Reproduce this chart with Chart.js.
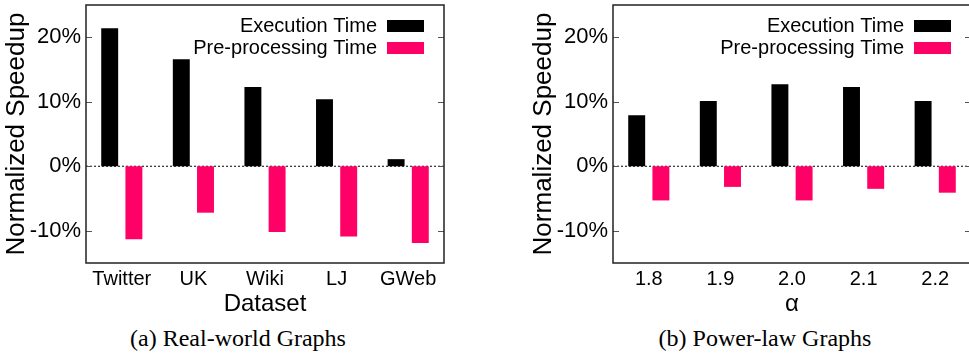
<!DOCTYPE html>
<html>
<head>
<meta charset="utf-8">
<script src="https://cdn.jsdelivr.net/npm/chart.js@4.4.1/dist/chart.umd.min.js"></script>
<style>
  body { margin: 0; background: #fff; }
  #page { position: relative; width: 969px; height: 356px; overflow: hidden; }
  canvas { position: absolute; top: 0; }
  .cap { position: absolute; top: 326px; font-family: "Liberation Serif"; font-size: 24px; line-height: 24px; white-space: nowrap; transform: translateX(-50%); color: #000; }
</style>
</head>
<body>
<div id="page">
  <canvas id="realChart" width="485" height="319" style="left:0"></canvas>
  <canvas id="alphaChart" width="472" height="319" style="left:500px"></canvas>
  <div class="cap" style="left:238px">(a) Real-world Graphs</div>
  <div class="cap" style="left:765px">(b) Power-law Graphs</div>
</div>
<script>

/* =====================
  data
===================== */

var realNames = ['Twitter', 'UK', 'Wiki', 'LJ', 'GWeb'];
var realExec = [21.4, 16.6, 12.3, 10.4, 1.1];
var realPre = [-11.3, -7.2, -10.2, -10.9, -11.9];

var alphaNames = ['1.8', '1.9', '2.0', '2.1', '2.2'];
var alphaExec = [7.9, 10.1, 12.7, 12.3, 10.1];
var alphaPre = [-5.3, -3.2, -5.3, -3.5, -4.1];

var yTicks = [-10, 0, 10, 20];
var seriesNames = ['Execution Time', 'Pre-processing Time'];
var seriesColors = ['#000000', '#ff0066'];

Chart.defaults.font.family = 'Liberation Sans';
Chart.defaults.color = '#000';

/* =====================
  frame, zero line, inner ticks, legend
===================== */

var framePlugin = {
	id: 'frame',
	beforeDatasetsDraw: function(chart) {
		var a = chart.chartArea;
		var ctx = chart.ctx;
		var y0 = chart.scales.y.getPixelForValue(0);
		ctx.save();
		ctx.strokeStyle = '#000';
		ctx.lineWidth = 1;
		ctx.setLineDash([2, 2]);
		ctx.beginPath();
		ctx.moveTo(a.left, y0);
		ctx.lineTo(a.right, y0);
		ctx.stroke();
		ctx.restore();
	},
	afterDatasetsDraw: function(chart) {
		var a = chart.chartArea;
		var ctx = chart.ctx;
		var ys = chart.scales.y;
		ctx.save();

		// small ticks pointing inside, both sides
		ctx.strokeStyle = '#555';
		ctx.lineWidth = 1;
		yTicks.forEach(function(v) {
			var y = Math.round(ys.getPixelForValue(v)) + 0.5;
			ctx.beginPath();
			ctx.moveTo(a.left, y);
			ctx.lineTo(a.left + 6, y);
			ctx.moveTo(a.right - 6, y);
			ctx.lineTo(a.right, y);
			ctx.stroke();
		});

		ctx.strokeStyle = '#222';
		ctx.lineWidth = 1.5;
		ctx.strokeRect(a.left, a.top, a.right - a.left, a.bottom - a.top);

		// legend inside the top right corner
		ctx.font = '20px "Liberation Sans"';
		ctx.textAlign = 'right';
		ctx.textBaseline = 'middle';
		chart.data.datasets.forEach(function(ds, i) {
			var y = a.top + 21 + i * 22;
			ctx.fillStyle = '#000';
			ctx.fillText(ds.label, a.right - 67, y);
			ctx.fillStyle = ds.backgroundColor;
			ctx.fillRect(a.right - 57, y - 6, 37, 12);
		});
		ctx.restore();
	}
};

var makeChart = function(id, labels, exec, pre, xTitle, padLeft, padRight) {
	var ctx = document.getElementById(id).getContext('2d');
	return new Chart(ctx, {
		type: 'bar',
		data: {
			labels: labels,
			datasets: [{
				label: seriesNames[0],
				data: exec,
				backgroundColor: seriesColors[0]
			}, {
				label: seriesNames[1],
				data: pre,
				backgroundColor: seriesColors[1]
			}]
		},
		options: {
			responsive: false,
			animation: false,
			datasets: {
				bar: { categoryPercentage: 0.676, barPercentage: 0.7, borderWidth: 0 }
			},
			layout: { padding: { top: 5, left: padLeft, right: padRight, bottom: 0 } },
			plugins: {
				legend: { display: false },
				tooltip: { enabled: false }
			},
			scales: {
				x: {
					grid: { display: false, drawTicks: false },
					border: { display: false },
					ticks: { font: { size: 20 }, padding: 4, color: '#000' },
					title: { display: true, text: xTitle, font: { size: 24 }, padding: 0, color: '#000' },
					afterFit: function(scale) {
						scale.height = 56;
						scale.paddingLeft = 0;
						scale.paddingRight = 0;
					}
				},
				y: {
					min: -15,
					max: 25,
					grid: { display: false, drawTicks: false },
					border: { display: false },
					afterBuildTicks: function(scale) {
						scale.ticks = yTicks.map(function(v) { return { value: v }; });
					},
					ticks: {
						font: { size: 22 },
						padding: 5,
						color: '#000',
						callback: function(v) { return v + '%'; }
					},
					title: { display: true, text: 'Normalized Speedup', font: { size: 26 }, padding: { top: 1, bottom: 0 }, color: '#000' },
					afterFit: function(scale) {
						scale.width = 86;
						scale.paddingTop = 0;
						scale.paddingBottom = 0;
					}
				}
			}
		},
		plugins: [framePlugin]
	});
};

var realChart = makeChart('realChart', realNames, realExec, realPre, 'Dataset', 0, 41);
var alphaChart = makeChart('alphaChart', alphaNames, alphaExec, alphaPre, 'α', 27, 1);

</script>
</body>
</html>
